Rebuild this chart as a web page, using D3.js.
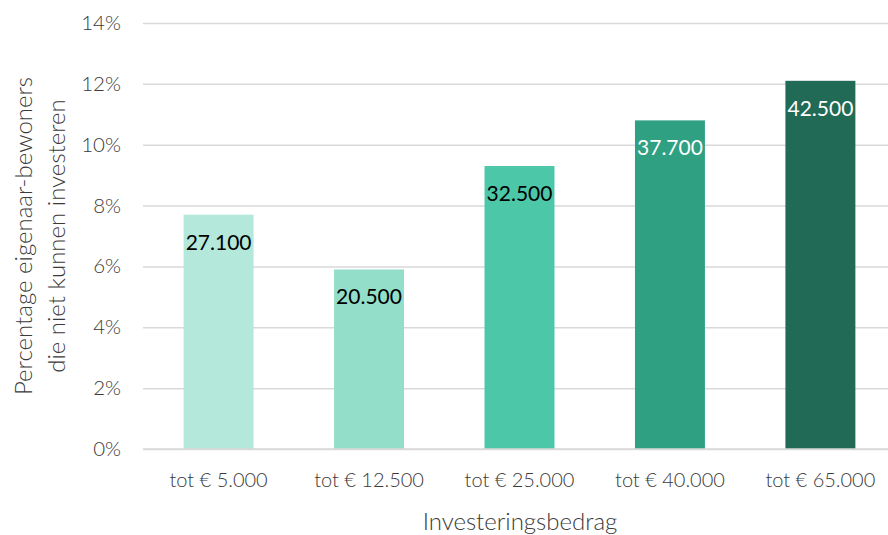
<!DOCTYPE html>
<html>
<head>
<meta charset="utf-8">
<script src="https://cdn.jsdelivr.net/npm/d3@7"></script>
<style>
  body { margin: 0; background: #fff; }
  text { font-family: Lato, "Open Sans", sans-serif; }
</style>
</head>
<body>
<svg id="chart" width="888" height="535"></svg>
<script>
// data
var categories = ["tot € 5.000", "tot € 12.500", "tot € 25.000", "tot € 40.000", "tot € 65.000"];
var percentages = [7.7, 5.9, 9.3, 10.8, 12.1];
var barLabels = ["27.100", "20.500", "32.500", "37.700", "42.500"];
var barColors = ["#b4e8db", "#93dec9", "#4cc8a8", "#30a083", "#206a56"];
var labelColors = ["#000", "#000", "#000", "#fff", "#fff"];
var yTicks = [0, 2, 4, 6, 8, 10, 12, 14];

var svg = d3.select("#chart");

// scales
var x = d3.scaleBand()
    .domain(categories)
    .range([143, 896])
    .paddingInner(0.535)
    .paddingOuter(0.27);

var y = d3.scaleLinear()
    .domain([0, 14])
    .range([449, 23]);

// gridlines + y tick labels
var yAxis = svg.append("g")
    .attr("transform", "translate(143,0)")
    .call(d3.axisLeft(y).tickValues(yTicks).tickSize(-745).tickFormat(function (d) { return d + "%"; }));
yAxis.select(".domain").remove();
yAxis.selectAll("line").attr("stroke", "#d9d9d9").attr("stroke-width", 1.5);
yAxis.selectAll("text")
    .attr("x", -22)
    .attr("fill", "#3a3a3a")
    .style("font-size", "20.5px")
    .style("font-weight", 300);

// bars
svg.selectAll("rect.bar")
    .data(percentages)
    .enter().append("rect")
    .attr("class", "bar")
    .attr("x", function (d, i) { return x(categories[i]); })
    .attr("width", x.bandwidth())
    .attr("y", function (d) { return y(d); })
    .attr("height", function (d) { return y(0) - y(d); })
    .attr("fill", function (d, i) { return barColors[i]; });

// x baseline
svg.append("line")
    .attr("x1", 143).attr("x2", 888)
    .attr("y1", y(0)).attr("y2", y(0))
    .attr("stroke", "#d9d9d9").attr("stroke-width", 1.5);

// value labels inside bar tops
svg.selectAll("text.val")
    .data(percentages)
    .enter().append("text")
    .attr("class", "val")
    .attr("x", function (d, i) { return x(categories[i]) + x.bandwidth() / 2; })
    .attr("y", function (d) { return y(d) + 35; })
    .attr("text-anchor", "middle")
    .attr("fill", function (d, i) { return labelColors[i]; })
    .style("font-size", "21px")
    .text(function (d, i) { return barLabels[i]; });

// x tick labels
var xAxis = svg.append("g")
    .attr("transform", "translate(0," + y(0) + ")")
    .call(d3.axisBottom(x).tickSize(0).tickPadding(24));
xAxis.select(".domain").remove();
xAxis.selectAll("text")
    .attr("fill", "#3a3a3a")
    .style("font-size", "20px")
    .style("font-weight", 300);

// axis titles
svg.append("text")
    .attr("x", 520)
    .attr("y", 530)
    .attr("text-anchor", "middle")
    .attr("fill", "#3a3a3a")
    .style("font-size", "24px")
    .style("font-weight", 300)
    .text("Investeringsbedrag");

var yTitle = svg.append("text")
    .attr("transform", "translate(0,236) rotate(-90)")
    .attr("text-anchor", "middle")
    .attr("fill", "#3a3a3a")
    .style("font-size", "24px")
    .style("font-weight", 300);
yTitle.append("tspan").attr("x", 0).attr("y", 32).text("Percentage eigenaar-bewoners");
yTitle.append("tspan").attr("x", 0).attr("y", 65).text("die niet kunnen investeren");
</script>
</body>
</html>
